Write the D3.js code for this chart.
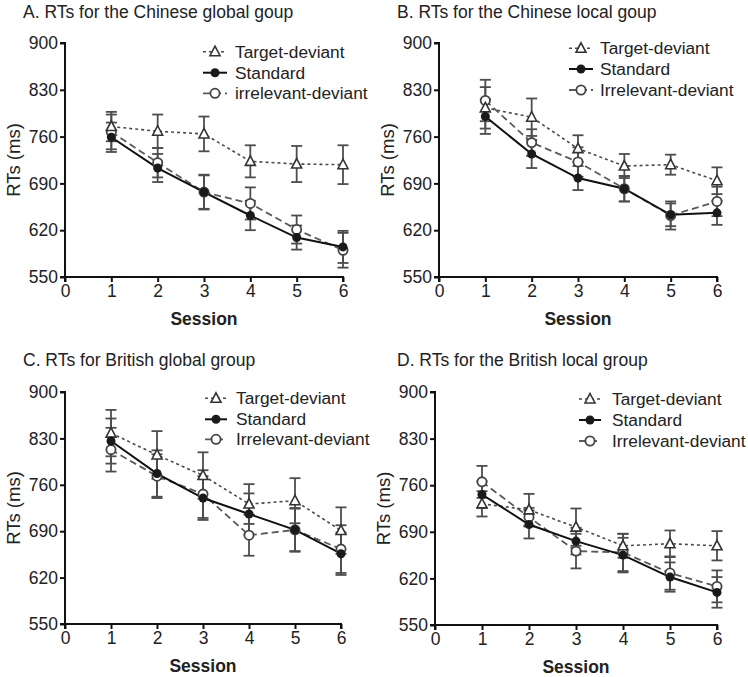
<!DOCTYPE html>
<html><head><meta charset="utf-8">
<script src="https://cdn.jsdelivr.net/npm/d3@7"></script>
<style>body{margin:0;background:#fff}svg{display:block}text{font-family:"Liberation Sans",Arial,sans-serif}</style>
</head><body><svg id="c" width="748" height="677"></svg>
<script>
const sessions = [1,2,3,4,5,6];
const xTicks = [0,1,2,3,4,5,6];
const yTicks = [550,620,690,760,830,900];
const seriesNames = ["Target-deviant","Standard","Irrelevant-deviant"];
const panelTitles = ["A. RTs for the Chinese global goup","B. RTs for the Chinese local goup","C. RTs for British global group","D. RTs for the British local group"];
const legendLabels = [
  ["Target-deviant","Standard","irrelevant-deviant"],
  ["Target-deviant","Standard","Irrelevant-deviant"],
  ["Target-deviant","Standard","Irrelevant-deviant"],
  ["Target-deviant","Standard","Irrelevant-deviant"]];
// means per panel (A,B,C,D)
const targetMean = [[775,768,764,723,719,718],[803,789,742,716,718,694],[838,805,774,731,736,691],[732,723,697,669,672,669]];
const targetErr  = [[22,25,26,24,27,29],[31,28,20,18,15,20],[35,36,35,30,34,35],[19,24,28,18,20,22]];
const standardMean = [[759,713,677,642,609,595],[790,734,698,682,643,646],[826,777,740,716,692,656],[746,701,676,655,622,599]];
const standardErr  = [[22,21,26,22,18,24],[26,21,18,19,17,18],[34,35,33,31,32,32],[20,21,20,26,22,23]];
const irrelevantMean = [[767,721,677,660,621,590],[814,751,722,682,642,663],[813,773,746,684,692,663],[765,712,661,659,628,608]];
const irrelevantErr  = [[26,22,25,24,21,26],[31,20,22,19,21,22],[33,33,36,31,33,36],[24,14,26,28,25,24]];

const svg = d3.select("#c");
const panels = [
  {x:65, y:43, w:278, h:234, tx:23, ty:18, lg:{x1:138,x2:162,tx:170,rows:[8.7,29.7,50.3]}},
  {x:439,y:43, w:278, h:234, tx:397,ty:18, lg:{x1:130,x2:154,tx:161,rows:[5.3,26,47]}},
  {x:65, y:392,w:276, h:232, tx:23, ty:366,lg:{x1:140,x2:162,tx:171,rows:[6.3,27.3,47.3]}},
  {x:435,y:392,w:282, h:233, tx:397,ty:366,lg:{x1:144,x2:166,tx:177,rows:[7,28,49]}}
];
const styles = [
  {color:"#4a4a4a", dash:"3,3", width:1.6, marker:"tri"},
  {color:"#111", dash:null, width:2, marker:"dot"},
  {color:"#5a5a5a", dash:"7,4", width:1.8, marker:"ring"}
];
function drawMarker(g, kind, cx, cy){
  if(kind==="tri"){
    g.append("path").attr("d",`M${cx},${cy-5.5}L${cx+5},${cy+4}L${cx-5},${cy+4}Z`)
     .attr("fill","#fff").attr("stroke","#333").attr("stroke-width",1.6);
  } else if(kind==="dot"){
    g.append("circle").attr("cx",cx).attr("cy",cy).attr("r",4.5).attr("fill","#1a1a1a");
  } else {
    g.append("circle").attr("cx",cx).attr("cy",cy).attr("r",4.6).attr("fill","#fff")
     .attr("stroke","#444").attr("stroke-width",1.8);
  }
}
panels.forEach((p,i)=>{
  const g = svg.append("g").attr("transform",`translate(${p.x},${p.y})`);
  const x = d3.scaleLinear().domain([0,6]).range([0,p.w]);
  const y = d3.scaleLinear().domain([550,900]).range([p.h,0]);
  svg.append("text").attr("x",p.tx).attr("y",p.ty).attr("font-size",17.5).attr("fill","#222").text(panelTitles[i]);
  const ya = g.append("g").call(d3.axisLeft(y).tickValues(yTicks).tickSize(5).tickPadding(2));
  const xa = g.append("g").attr("transform",`translate(0,${p.h})`).call(d3.axisBottom(x).tickValues(xTicks).tickSize(5).tickPadding(3).tickFormat(d3.format("d")));
  [ya,xa].forEach(a=>{
    a.select(".domain").attr("stroke","#111").attr("stroke-width",2);
    a.selectAll(".tick line").attr("stroke","#111").attr("stroke-width",2);
    a.selectAll(".tick text").attr("font-size",17.5).attr("fill","#222").attr("font-family","Liberation Sans, Arial, sans-serif");
  });
  ya.select(".domain").attr("d",`M-5,0H0V${p.h}H-5`);
  xa.select(".domain").attr("d",`M0,5V0H${p.w}V5`);
  g.append("text").attr("x",p.w/2).attr("y",p.h+48).attr("text-anchor","middle")
   .attr("font-size",17.5).attr("font-weight","bold").attr("fill","#222").text("Session");
  g.append("text").attr("transform",`translate(${-45},${p.h/2}) rotate(-90)`).attr("text-anchor","middle")
   .attr("font-size",18.5).attr("fill","#222").text("RTs (ms)");
  const means = [targetMean[i], standardMean[i], irrelevantMean[i]];
  const errs = [targetErr[i], standardErr[i], irrelevantErr[i]];
  // error bars
  means.forEach((m,s)=>{
    sessions.forEach((sx,k)=>{
      const cx = x(sx), top = y(m[k]+errs[s][k]), bot = y(m[k]-errs[s][k]);
      const eg = g.append("g").attr("stroke","#4d4d4d").attr("stroke-width",1.8);
      eg.append("line").attr("x1",cx).attr("x2",cx).attr("y1",top).attr("y2",bot);
      eg.append("line").attr("x1",cx-5.5).attr("x2",cx+5.5).attr("y1",top).attr("y2",top);
      eg.append("line").attr("x1",cx-5.5).attr("x2",cx+5.5).attr("y1",bot).attr("y2",bot);
    });
  });
  const line = d3.line().x((d,k)=>x(sessions[k])).y(d=>y(d));
  [2,0,1].forEach(s=>{
    g.append("path").attr("d",line(means[s])).attr("fill","none").attr("stroke",styles[s].color)
     .attr("stroke-width",styles[s].width).attr("stroke-dasharray",styles[s].dash);
  });
  [2,0,1].forEach(s=>{
    sessions.forEach((sx,k)=>drawMarker(g, styles[s].marker, x(sx), y(means[s][k])));
  });
  // legend
  const lg = p.lg;
  legendLabels[i].forEach((lab,s)=>{
    const ry = lg.rows[s];
    g.append("line").attr("x1",lg.x1).attr("x2",lg.x2).attr("y1",ry).attr("y2",ry)
     .attr("stroke",styles[s].color).attr("stroke-width",styles[s].width).attr("stroke-dasharray",styles[s].dash);
    drawMarker(g, styles[s].marker, (lg.x1+lg.x2)/2, ry);
    g.append("text").attr("x",lg.tx).attr("y",ry+6).attr("font-size",17.3).attr("fill","#222").text(lab);
  });
});
</script></body></html>
